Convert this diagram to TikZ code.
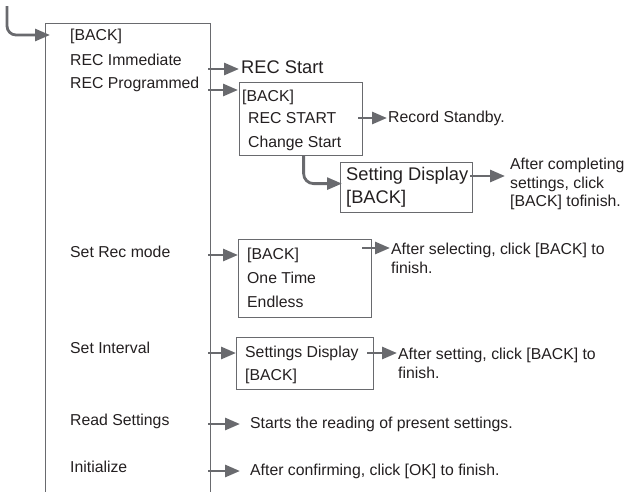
\documentclass[tikz,border=0pt]{standalone}
\usepackage{fontspec}
\setmainfont{Liberation Sans}
\usetikzlibrary{arrows.meta}
\definecolor{linegray}{RGB}{105,106,110}
\definecolor{inkgray}{RGB}{35,31,32}

\begin{document}
\begin{tikzpicture}[x=1pt,y=-1pt]
  \tikzstyle{item}=[anchor=west,inner sep=0pt,text=inkgray,text height=11pt,text depth=3pt,font=\fontsize{15.8}{18}\selectfont]
  \tikzstyle{big}=[item,text height=13pt,text depth=4pt,font=\fontsize{18.3}{21}\selectfont]
  \tikzstyle{note}=[anchor=west,inner sep=0pt,align=left,text=inkgray,font=\fontsize{15.8}{18.8}\selectfont]
  \tikzstyle{box}=[draw=linegray,line width=1.2pt,anchor=north west,inner sep=0pt]
  \tikzstyle{go}=[draw=linegray,line width=2.8pt,-{Triangle[length=15pt,width=12pt]}]
  \useasboundingbox (0,0) rectangle (630,491);
  \clip (0,0) rectangle (630,491);
  % main menu
  \node[box,minimum width=165pt,minimum height=520pt] (menu) at (45,23) {};
  \node[item] (M_back) at (70,36) {[BACK]};
  \node[item] (M_imm) at (70,61) {REC Immediate};
  \node[item] (M_prog) at (70,84) {REC Programmed};
  \node[item] (M_mode) at (70,253) {Set Rec mode};
  \node[item] (M_int) at (70,349) {Set Interval};
  \node[item] (M_read) at (70,421) {Read Settings};
  \node[item] (M_init) at (70,468) {Initialize};
  \coordinate (entry) at (7,6);
  \draw[go,rounded corners=9pt] (entry) |- (50,35);
  % REC Immediate / REC Programmed
  \node[big] (recstart) at (241,69) {REC Start};
  \draw[go] ([xshift=-3pt]menu.east |- recstart) -- ([xshift=-2pt]recstart.west);
  \node[box,minimum width=123pt,minimum height=73pt] (B_prog) at (239,82) {};
  \node[item] (P_back) at (242,97) {[BACK]};
  \node[item] (P_start) at (248,119) {REC START};
  \node[item] (P_change) at (248,143) {Change Start};
  \coordinate (prog_in) at (239,90);
  \draw[go] ([xshift=-3pt]menu.east |- prog_in) -- ([xshift=-1pt]prog_in);
  \node[item] (standby) at (388,118) {Record Standby.};
  \draw[go] ([xshift=-5pt]B_prog.east |- standby) -- ([xshift=-1pt]standby.west);
  \node[box,minimum width=132pt,minimum height=50pt] (B_disp) at (340,162) {};
  \node[big] (D_set) at (346,176) {Setting Display};
  \node[big] (D_back) at (346,199) {[BACK]};
  \draw[go,rounded corners=10pt] ([xshift=2.5pt]B_prog.south) |- ([xshift=2pt,yshift=4pt]B_disp.west);
  \node[note] (N_disp) at (510,184) {After completing\\settings, click\\{[BACK]} tofinish.};
  \draw[go] ([xshift=-3pt]B_disp.east |- D_set) -- ([xshift=-5pt]N_disp.west |- D_set);
  % Set Rec mode
  \node[box,minimum width=133pt,minimum height=78pt] (B_mode) at (238,239) {};
  \node[item] (R_back) at (247,255) {[BACK]};
  \node[item] (R_one) at (247,279) {One Time};
  \node[item] (R_end) at (247,303) {Endless};
  \draw[go] ([xshift=-3pt]menu.east |- R_back) -- (B_mode.west |- R_back);
  \node[note] (N_mode) at (391,258) {After selecting, click [BACK] to\\finish.};
  \coordinate (mode_out) at (362,248);
  \draw[go] (mode_out) -- ([xshift=-1pt]N_mode.west |- mode_out);
  % Set Interval
  \node[box,minimum width=137pt,minimum height=52pt] (B_int) at (236,337) {};
  \node[item] (I_set) at (245,353) {Settings Display};
  \node[item] (I_back) at (245,376) {[BACK]};
  \draw[go] ([xshift=-3pt]menu.east |- I_set) -- (B_int.west |- I_set);
  \node[note] (N_int) at (398,363) {After setting, click [BACK] to\\finish.};
  \draw[go] ([xshift=-7pt]B_int.east |- I_set) -- ([xshift=-1pt]N_int.west |- I_set);
  % Read Settings / Initialize
  \node[item] (N_read) at (250,424) {Starts the reading of present settings.};
  \draw[go] ([xshift=-3pt]menu.east |- N_read) -- ([xshift=-10pt]N_read.west);
  \node[item] (N_init) at (250,471) {After confirming, click [OK] to finish.};
  \draw[go] ([xshift=-3pt]menu.east |- N_init) -- ([xshift=-10pt]N_init.west);
\end{tikzpicture}
\end{document}
